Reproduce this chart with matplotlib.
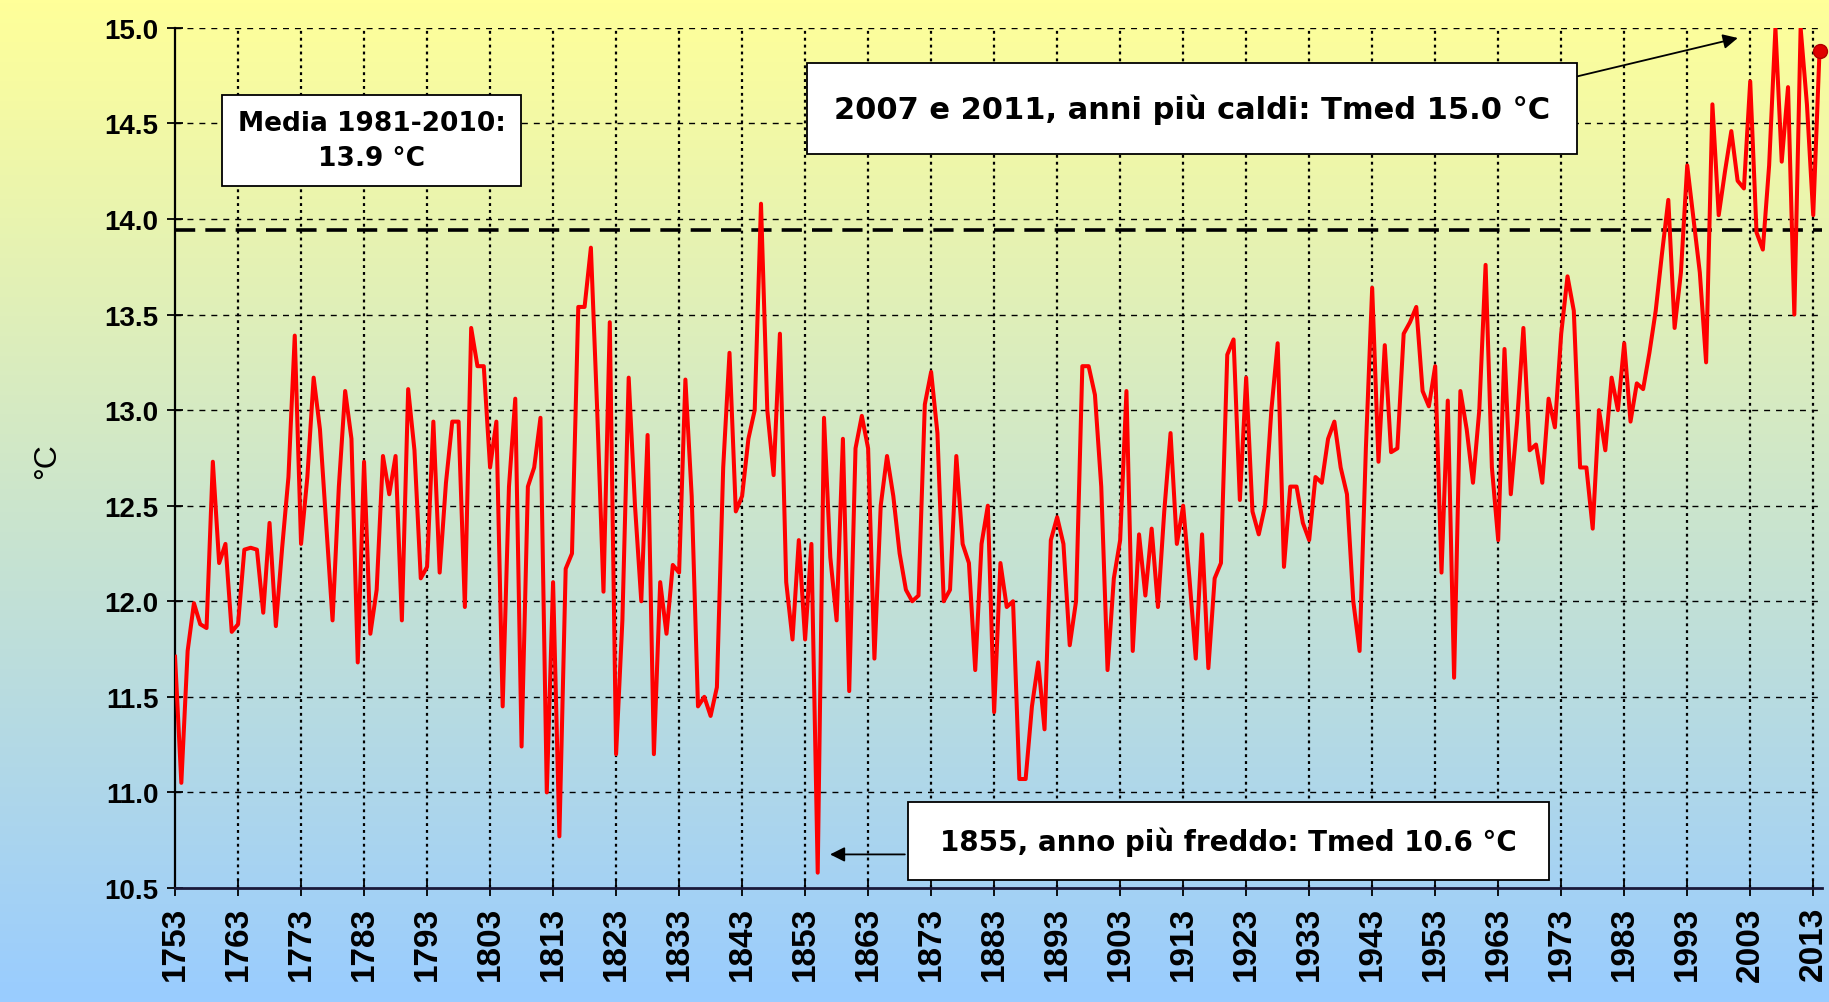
import matplotlib
matplotlib.use("Agg")
import matplotlib.pyplot as plt
import numpy as np
from matplotlib.patches import Rectangle

# annual mean temperature
t1753 = [11.71, 11.05, 11.74, 11.99, 11.88, 11.86, 12.73, 12.20, 12.30, 11.84]
t1763 = [11.88, 12.27, 12.28, 12.27, 11.94, 12.41, 11.87, 12.28, 12.65, 13.39]
t1773 = [12.30, 12.65, 13.17, 12.90, 12.40, 11.90, 12.60, 13.10, 12.85, 11.68]
t1783 = [12.73, 11.83, 12.06, 12.76, 12.56, 12.76, 11.90, 13.11, 12.79, 12.12]
t1793 = [12.18, 12.94, 12.15, 12.62, 12.94, 12.94, 11.97, 13.43, 13.23, 13.23]
t1803 = [12.70, 12.94, 11.45, 12.60, 13.06, 11.24, 12.60, 12.70, 12.96, 11.00]
t1813 = [12.10, 10.77, 12.17, 12.25, 13.54, 13.54, 13.85, 13.00, 12.05, 13.46]
t1823 = [11.20, 11.90, 13.17, 12.50, 12.00, 12.87, 11.20, 12.10, 11.83, 12.19]
t1833 = [12.15, 13.16, 12.55, 11.45, 11.50, 11.40, 11.55, 12.70, 13.30, 12.47]
t1843 = [12.55, 12.85, 13.00, 14.08, 13.00, 12.66, 13.40, 12.10, 11.80, 12.32]
t1853 = [11.80, 12.30, 10.58, 12.96, 12.23, 11.90, 12.85, 11.53, 12.80, 12.97]
t1863 = [12.80, 11.70, 12.50, 12.76, 12.55, 12.25, 12.06, 12.00, 12.03, 13.03]
t1873 = [13.20, 12.88, 12.00, 12.06, 12.76, 12.30, 12.20, 11.64, 12.30, 12.50]
t1883 = [11.42, 12.20, 11.97, 12.00, 11.07, 11.07, 11.45, 11.68, 11.33, 12.32]
t1893 = [12.44, 12.30, 11.77, 12.00, 13.23, 13.23, 13.08, 12.60, 11.64, 12.12]
t1903 = [12.32, 13.10, 11.74, 12.35, 12.03, 12.38, 11.97, 12.47, 12.88, 12.30]
t1913 = [12.50, 12.12, 11.70, 12.35, 11.65, 12.12, 12.20, 13.29, 13.37, 12.53]
t1923 = [13.17, 12.47, 12.35, 12.50, 13.00, 13.35, 12.18, 12.60, 12.60, 12.41]
t1933 = [12.32, 12.65, 12.62, 12.85, 12.94, 12.70, 12.56, 12.00, 11.74, 12.80]
t1943 = [13.64, 12.73, 13.34, 12.78, 12.80, 13.40, 13.46, 13.54, 13.10, 13.02]
t1953 = [13.23, 12.15, 13.05, 11.60, 13.10, 12.90, 12.62, 13.00, 13.76, 12.70]
t1963 = [12.32, 13.32, 12.56, 12.94, 13.43, 12.79, 12.82, 12.62, 13.06, 12.91]
t1973 = [13.40, 13.70, 13.52, 12.70, 12.70, 12.38, 13.00, 12.79, 13.17, 13.00]
t1983 = [13.35, 12.94, 13.14, 13.11, 13.30, 13.52, 13.82, 14.10, 13.43, 13.72]
t1993 = [14.28, 14.00, 13.72, 13.25, 14.60, 14.02, 14.25, 14.46, 14.20, 14.16]
t2003 = [14.72, 13.93, 13.84, 14.28, 15.00, 14.30, 14.69, 13.50, 15.00, 14.60]
t2013 = [14.02, 14.88]

temps = (t1753 + t1763 + t1773 + t1783 + t1793 + t1803 + t1813 + t1823 + t1833
         + t1843 + t1853 + t1863 + t1873 + t1883 + t1893 + t1903 + t1913 + t1923
         + t1933 + t1943 + t1953 + t1963 + t1973 + t1983 + t1993 + t2003 + t2013)
years = np.arange(1753, 1753 + len(temps))

mean_8110 = 13.94
xtick_years = list(range(1753, 2014, 10))
ytick_vals = [10.5, 11.0, 11.5, 12.0, 12.5, 13.0, 13.5, 14.0, 14.5, 15.0]
note_mean = "Media 1981-2010:\n13.9 °C"
note_warm = "2007 e 2011, anni più caldi: Tmed 15.0 °C"
note_cold = "1855, anno più freddo: Tmed 10.6 °C"

plt.rcParams['font.family'] = ['Liberation Sans', 'DejaVu Sans']

fig = plt.figure(figsize=(18.29, 10.03), dpi=100)

# yellow -> light blue background over the whole picture
bg = fig.add_axes([0, 0, 1, 1])
top = np.array([255, 255, 153]) / 255
bot = np.array([153, 204, 255]) / 255
t = np.linspace(0, 1, 256)[:, None]
grad = top * (1 - t) + bot * t
bg.imshow(grad[:, None, :], aspect='auto', extent=[0, 1, 0, 1])
bg.axis('off')

ax = fig.add_axes([0.0957, 0.1137, 0.9005, 0.8575])
ax.patch.set_alpha(0)

ax.set_xlim(1753, 2014.4)
ax.set_ylim(10.5, 15.0)

# grid
for v in ytick_vals[1:]:
    ax.axhline(v, color='black', lw=1.0, ls=(0, (4.3, 4.3)), zorder=1)
for yr in xtick_years[1:]:
    ax.axvline(yr, color='black', lw=1.6, ls=(0, (1.3, 1.8)), zorder=1)

ax.axhline(mean_8110, color='black', lw=2.6, ls=(0, (5.6, 2.8)), zorder=2)

ax.plot(years, temps, color='#FF0000', lw=2.9, zorder=3)
ax.plot(years[-1], temps[-1], 'o', ms=10, color='#E00000', mec='#B00000',
        zorder=4, clip_on=False)

for s in ['top', 'right']:
    ax.spines[s].set_visible(False)
ax.spines['left'].set_linewidth(1.6)
ax.spines['bottom'].set_linewidth(2.0)
ax.spines['bottom'].set_color('#1a1a3a')

ax.set_yticks(ytick_vals)
ax.set_yticklabels([f"{v:.1f}" for v in ytick_vals], fontsize=20, fontweight='bold')
ax.set_xticks(xtick_years)
ax.set_xticklabels([str(y) for y in xtick_years], rotation=90, fontsize=24,
                   fontweight='bold')
ax.tick_params(axis='both', direction='inout', length=12, width=1.3, pad=6)
ax.tick_params(axis='x', pad=7)

fig.text(0.0257, 0.540, "°C", rotation=90, ha='center', va='center', fontsize=23)

# text boxes
def box(x0, y0, x1, y1, txt, size):
    ax.add_patch(Rectangle((x0, y0), x1 - x0, y1 - y0, transform=ax.transAxes,
                           facecolor='white', edgecolor='black', lw=1.3, zorder=5))
    ax.text((x0 + x1) / 2, (y0 + y1) / 2, txt, transform=ax.transAxes, ha='center',
            va='center', fontsize=size, fontweight='bold', zorder=6, linespacing=1.45,
            family=['DejaVu Sans'])

box(0.0285, 0.816, 0.2102, 0.922, note_mean, 19)
box(0.3837, 0.8535, 0.8512, 0.9593, note_warm, 22)
box(0.445, 0.0093, 0.834, 0.100, note_cold, 20)

arrow = dict(arrowstyle='-|>', color='black', lw=1.3, mutation_scale=22)
ax.annotate('', xy=(0.9505, 0.989), xytext=(0.850, 0.943), xycoords='axes fraction',
            arrowprops=arrow, zorder=6)
ax.annotate('', xy=(0.396, 0.039), xytext=(0.4448, 0.039), xycoords='axes fraction',
            arrowprops=arrow, zorder=6)

fig.savefig('out.png', dpi=100)
